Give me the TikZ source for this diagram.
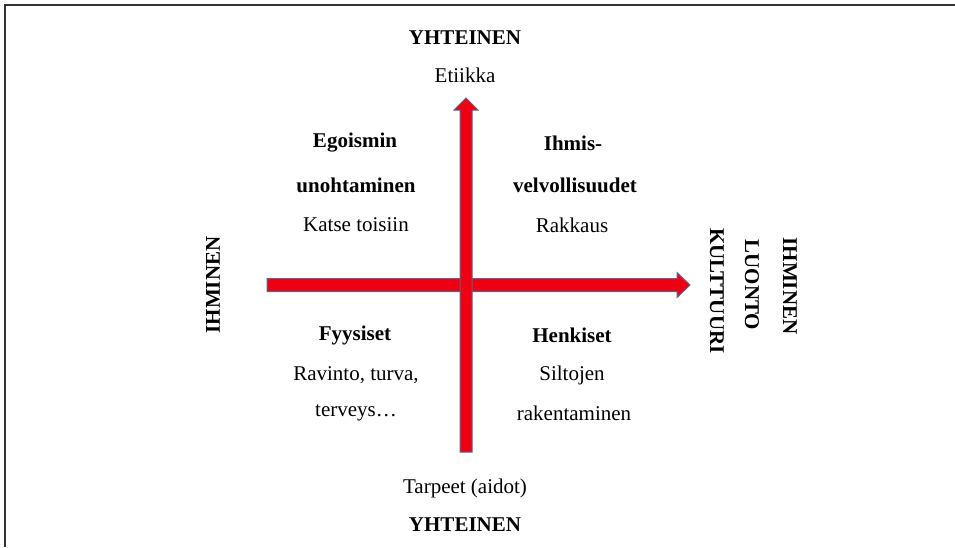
\documentclass[tikz,border=0pt]{standalone}
\usepackage{fontspec}
\setmainfont{Liberation Serif}
\usepackage{tikz}
\usetikzlibrary{calc}
\definecolor{axisred}{RGB}{238,0,18}
\definecolor{axisedge}{RGB}{95,100,140}
\tikzset{
    axisarrow/.style={fill=axisred, draw=axisedge, line width=1pt, line join=miter},
    txt/.style={font=\fontsize{21}{25}\selectfont, inner sep=0pt},
    boldtxt/.style={txt, font=\fontsize{21}{25}\selectfont\bfseries}
}

\begin{document}
\begin{tikzpicture}[x=1pt,y=-1pt]
    \useasboundingbox (0,0) rectangle (955,547);
    \draw[line width=1.5pt, black!80] (955,5) -- (5,5) -- (5,547);

    \node[boldtxt] (topname) at (465,38) {YHTEINEN};
    \node[txt] (topsub) at (465,75) {Etiikka};

    \node[boldtxt] (q1a) at (355,143) {Egoismin};
    \node[boldtxt] (q1b) at (356,185) {unohtaminen};
    \node[txt] (q1c) at (356,225) {Katse toisiin};

    \node[boldtxt] (q2a) at (573,143) {Ihmis-};
    \node[boldtxt] (q2b) at (575,185) {velvollisuudet};
    \node[txt] (q2c) at (572,225) {Rakkaus};

    \node[boldtxt] (q3a) at (355,335) {Fyysiset};
    \node[txt] (q3b) at (356,375) {Ravinto, turva,};
    \node[txt] (q3c) at (356,413) {terveys…};

    \node[boldtxt] (q4a) at (572,335) {Henkiset};
    \node[txt] (q4b) at (572,375) {Siltojen};
    \node[txt] (q4c) at (574,413) {rakentaminen};

    \node[txt] (botsub) at (465,488) {Tarpeet (aidot)};
    \node[boldtxt] (botname) at (465,525) {YHTEINEN};

    \node[boldtxt, rotate=90] (leftname) at (213,285) {IHMINEN};
    \node[boldtxt, rotate=-90] (right1) at (717,291) {KULTTUURI};
    \node[boldtxt, rotate=-90] (right2) at (752,285) {LUONTO};
    \node[boldtxt, rotate=-90] (right3) at (790,286) {IHMINEN};

    % axes
    \coordinate (hstart) at (267,285);
    \coordinate (hend) at (690,285);
    \coordinate (vstart) at (466,452);
    \coordinate (vend) at (466,98);

    \draw[axisarrow] ($(hstart)+(0,-6.5)$) -- ($(hend)+(-13,-6.5)$) -- ($(hend)+(-13,-12.5)$)
        -- (hend) -- ($(hend)+(-13,12.5)$) -- ($(hend)+(-13,6.5)$) -- ($(hstart)+(0,6.5)$) -- cycle;
    \draw[axisarrow] ($(vstart)+(-6,0)$) -- ($(vend)+(-6,12)$) -- ($(vend)+(-12,12)$)
        -- (vend) -- ($(vend)+(12,12)$) -- ($(vend)+(6,12)$) -- ($(vstart)+(6,0)$) -- cycle;
\end{tikzpicture}
\end{document}
